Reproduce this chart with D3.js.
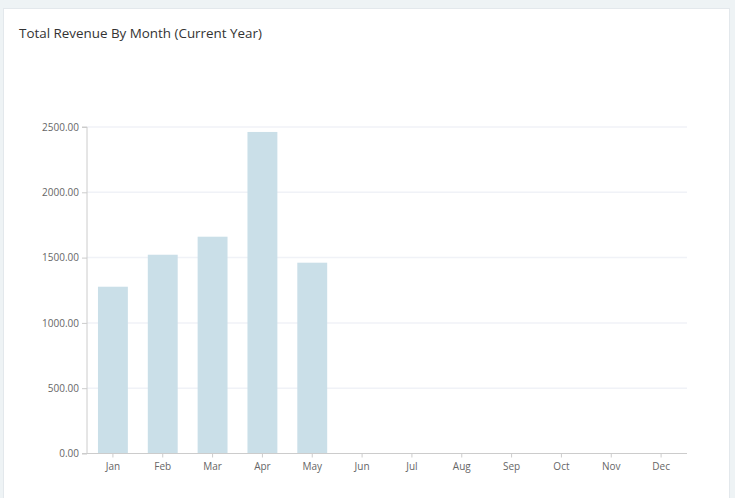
<!DOCTYPE html>
<html>
<head>
<meta charset="utf-8">
<script src="https://cdn.jsdelivr.net/npm/d3@7"></script>
<style>
  html, body { margin: 0; padding: 0; background: #eef3f5; }
  #card {
    position: absolute; left: 3px; top: 8px; width: 727px; height: 495px;
    background: #fff; border: 1px solid #e3e8ec; box-sizing: border-box;
  }
  #chart { position: absolute; left: 0; top: 0; }
  .axis text { font-family: "Open Sans", sans-serif; font-size: 10px; fill: #666; }
  .axis path, .axis line { stroke: #ccc; }
</style>
</head>
<body>
<div id="card"></div>
<svg id="chart" width="735" height="498"></svg>
<script>
// chart data
const months = ["Jan", "Feb", "Mar", "Apr", "May", "Jun", "Jul", "Aug", "Sep", "Oct", "Nov", "Dec"];
const revenue = [1277, 1522, 1660, 2462, 1461, 0, 0, 0, 0, 0, 0, 0];
const yTicks = [0, 500, 1000, 1500, 2000, 2500];

let margin = {top: 127, right: 48, bottom: 44.5, left: 87};
let width = 735 - margin.left - margin.right;
let height = 498 - margin.top - margin.bottom;

let svg = d3.select("#chart");

svg.append("text")
    .attr("x", 19)
    .attr("y", 38)
    .attr("font-family", "'Open Sans', sans-serif")
    .attr("font-size", 13.4)
    .attr("fill", "#333")
    .text("Total Revenue By Month (Current Year)");

let g = svg.append("g")
    .attr("transform", `translate(${margin.left},${margin.top})`);

let x = d3.scaleBand()
    .domain(months)
    .range([0, width])
    .paddingInner(0.4)
    .paddingOuter(0.22);

let y = d3.scaleLinear()
    .domain([0, 2500])
    .range([height, 0]);

// gridlines
g.selectAll(".grid").data(yTicks.slice(1))
    .enter().append("line")
    .attr("class", "grid")
    .attr("x1", 0).attr("x2", width)
    .attr("y1", d => y(d)).attr("y2", d => y(d))
    .attr("stroke", "#f0f2f7")
    .attr("stroke-width", 1.5);

// bars
g.selectAll(".bar").data(months.map((m, i) => ({month: m, value: revenue[i]})))
    .enter().append("rect")
    .attr("class", "bar")
    .attr("x", d => x(d.month))
    .attr("y", d => y(d.value))
    .attr("width", x.bandwidth())
    .attr("height", d => height - y(d.value))
    .attr("fill", "#cadfe8");

let yAxis = d3.axisLeft(y)
    .tickValues(yTicks)
    .tickFormat(d3.format(".2f"))
    .tickSize(5)
    .tickPadding(3);

g.append("g")
    .attr("class", "y-axis axis")
    .call(yAxis)
    .call(s => s.select(".domain").attr("d", `M-5,0H0V${height}H-5`));

let xAxis = d3.axisBottom(x)
    .tickSize(4)
    .tickPadding(5);

g.append("g")
    .attr("class", "x-axis axis")
    .attr("transform", `translate(0,${height})`)
    .call(xAxis)
    .call(s => s.select(".domain").attr("d", `M0,0H${width}`));
</script>
</body>
</html>
